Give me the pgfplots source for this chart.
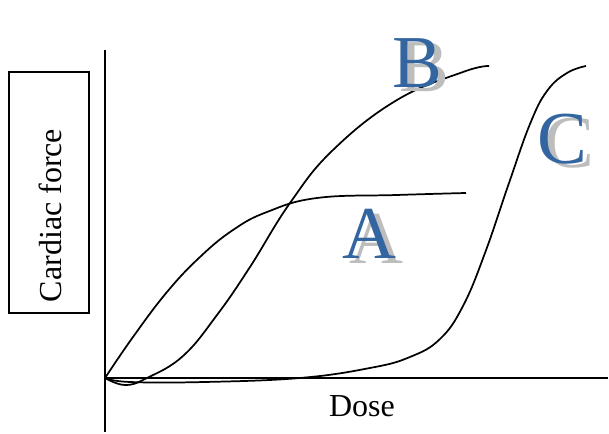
\documentclass[border=0pt]{standalone}
\usepackage{fontspec}
\setmainfont{Liberation Serif}
\usepackage{pgfplots}
\pgfplotsset{compat=1.18}
\definecolor{lblue}{HTML}{3366A0}
\definecolor{lgray}{HTML}{BDBDBD}
% one unit = one pixel of the reference, 0.75pt
\tikzset{
  big/.style={font=\fontsize{56}{60}\selectfont, inner sep=0pt},
  lab/.style={font=\fontsize{24}{28}\selectfont, inner sep=0pt}
}
\begin{document}
\begin{tikzpicture}
\begin{axis}[
  scale only axis, width=377.25pt, height=286.5pt,
  xmin=0, xmax=503, ymin=-54, ymax=328,
  axis lines=middle, axis line style={-, line width=1.5pt},
  xtick=\empty, ytick=\empty, clip=false,
]
\path (axis cs:-105,-56) rectangle (axis cs:504,378);
% A
\addplot[black, line width=1.3pt, smooth, tension=0.7] coordinates {
  (0,0) (28,41) (62,86) (95,121) (128,148) (162,166) (212,180) (292,183) (361,185)};
% B
\addplot[black, line width=1.3pt, smooth, tension=0.7] coordinates {
  (0,0) (20,-7) (42,0) (78,22) (112,63) (145,111) (185,175) (228,228)
  (292,278) (358,306) (384,312)};
% C
\addplot[black, line width=1.3pt, smooth, tension=0.7] coordinates {
  (0,0) (25,-4) (100,-4) (195,0) (265,10) (305,21) (335,39) (358,72)
  (380,125) (404,195) (425,254) (442,287) (462,305) (481,312)};
\draw[line width=1.1pt] (axis cs:-96,65) rectangle (axis cs:-16,306);
\node[lab, rotate=90, anchor=base] at (axis cs:-43,162.5) {Cardiac force};
\node[lab, anchor=base] at (axis cs:257,-39) {Dose};
\node[big, text=lgray] at (axis cs:271,139.5) {A};
\node[big, text=lblue] at (axis cs:264,144.5) {A};
\node[big, text=lgray] at (axis cs:319.5,311) {B};
\node[big, text=lblue] at (axis cs:312.5,315) {B};
\node[big, text=lgray] at (axis cs:464,235) {C};
\node[big, text=lblue] at (axis cs:457,239) {C};
\end{axis}
\end{tikzpicture}
\end{document}
